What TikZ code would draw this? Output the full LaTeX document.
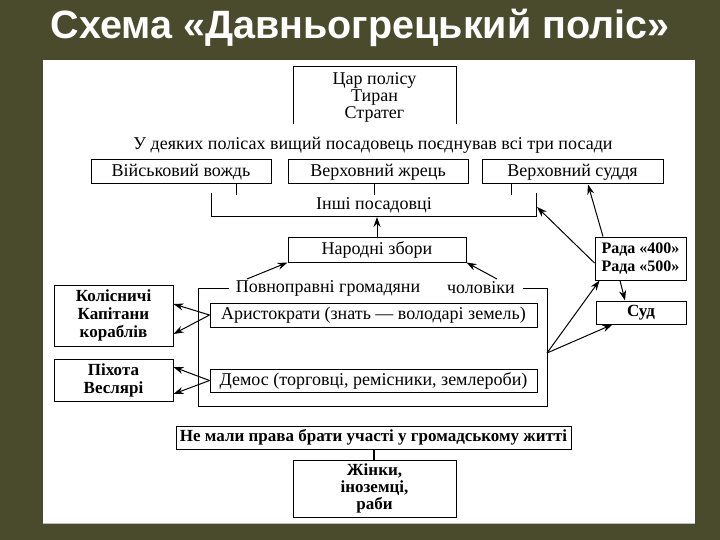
\documentclass[tikz,border=0pt]{standalone}
\usepackage{fontspec}
\setmainfont{Liberation Serif}
\newfontfamily\titlefont{Liberation Sans}
\usetikzlibrary{arrows.meta}
\definecolor{bgolive}{HTML}{4A4B2C}
\begin{document}
\begin{tikzpicture}[x=1pt,y=-1pt,
  tx/.style={inner sep=0pt, align=center, font=\fontsize{18}{17}\selectfont},
  bx/.style={tx, draw, line width=1pt},
  bbx/.style={bx, font=\fontsize{17}{17}\selectfont\bfseries},
  ln/.style={line width=1pt},
  arr/.style={line width=1pt, -{Stealth[length=10pt,width=7pt]}}]
\useasboundingbox (0,0) rectangle (720,540);
\fill[bgolive] (0,0) rectangle (720,540);
\fill[white] (43,60) rectangle (695,523);
\draw[black!25, line width=0.8pt] (43,523) -- (695,523);
% title
\node[text=white, font=\titlefont\fontsize{39.5}{39.5}\selectfont\bfseries] (title) at (360,28) {Схема «Давньогрецький поліс»};
% top box (open at the bottom)
\node[tx] (tsar) at (374.5,97) {Цар полісу\\Тиран\\Стратег};
\draw[ln] (293,124) -- (293,67) -- (456,67) -- (456,124);
\node[tx] (sent) at (373,145) {У деяких полісах вищий посадовець поєднував всі три посади};
% three boxes
\node[bx, minimum width=180pt, minimum height=24pt] (war) at (181,172) {Військовий вождь};
\node[bx, minimum width=180pt, minimum height=24pt] (priest) at (378,172) {Верховний жрець};
\node[bx, minimum width=181pt, minimum height=24pt] (judge) at (572.5,172) {Верховний суддя};
\draw[ln] (236,184) -- (236,195);
\draw[ln] (374,184) -- (374,195);
\draw[ln] (511,184) -- (511,195);
% bracket
\coordinate (bl) at (211,193);
\coordinate (br) at (536,193);
\draw[ln] (bl) -- (211,217) -- (536,217) -- (br);
\coordinate (bmid) at (377,217);
\coordinate (bright) at (537,207);
\node[tx] (other) at (374,205) {Інші посадовці};
% people's assembly
\node[bx, minimum width=178pt, minimum height=25pt] (assembly) at (377,249.5) {Народні збори};
\draw[arr] (assembly.north) -- (bmid);
% citizens container
\node[tx] (full) at (328,288) {Повноправні громадяни};
\node[tx] (men) at (481,288) {чоловіки};
\draw[ln] (full.west) ++(-7,0) -- (198,288) -- (198,406) -- (547,406) -- (547,288) -- ([xshift=8pt]men.east);
\coordinate (cright) at (547,353);
\draw[arr] (247,279) -- (assembly.south west);
\draw[arr] (497,279) -- (assembly.south east);
\node[bx, minimum width=327pt, minimum height=24pt] (arist) at (373.5,315) {Аристократи (знать — володарі земель)};
\node[bx, minimum width=327pt, minimum height=23pt] (demos) at (373.5,380.5) {Демос (торговці, ремісники, землероби)};
% left boxes
\node[bbx, minimum width=119pt, minimum height=61pt, font=\fontsize{17}{18}\selectfont\bfseries] (chariot) at (113.5,315.5) {Колісничі\\Капітани\\кораблів};
\node[bbx, minimum width=119pt, minimum height=42pt, font=\fontsize{17}{18}\selectfont\bfseries] (infantry) at (113.5,380) {Піхота\\Веслярі};
\draw[arr] (arist.west) -- ([yshift=-18.5pt]chariot.east);
\draw[arr] (arist.west) -- ([yshift=11.5pt]chariot.east);
\draw[arr] (demos.west) -- ([yshift=-14pt]infantry.east);
\draw[arr] (demos.west) -- ([yshift=13pt]infantry.east);
% council and court
\node[bbx, minimum width=91pt, minimum height=43pt, font=\fontsize{16}{18}\selectfont\bfseries] (council) at (640.5,258.5) {Рада «400»\\Рада «500»};
\node[bbx, minimum width=90pt, minimum height=23pt] (court) at (641,312.5) {Суд};
\draw[arr] ([yshift=-4.5pt]council.west) -- (bright);
\draw[arr] ([xshift=-37.5pt]council.north) -- ([xshift=15.5pt]judge.south);
\draw[arr] ([xshift=-20.5pt]council.south) -- ([xshift=-16pt]court.north);
\draw[arr] (cright) -- ([xshift=5pt]council.south west);
\draw[arr] (cright) -- ([xshift=17pt]court.south west);
% excluded
\node[bbx, minimum width=395pt, minimum height=23pt] (norights) at (373.5,437.5) {Не мали права брати участі у громадському житті};
\node[bbx, minimum width=163pt, minimum height=57pt] (women) at (374.5,488.5) {Жінки,\\іноземці,\\раби};
\draw[line width=1.3pt] ([xshift=0.5pt]norights.south) -- ([xshift=-0.5pt]women.north);
\end{tikzpicture}
\end{document}
